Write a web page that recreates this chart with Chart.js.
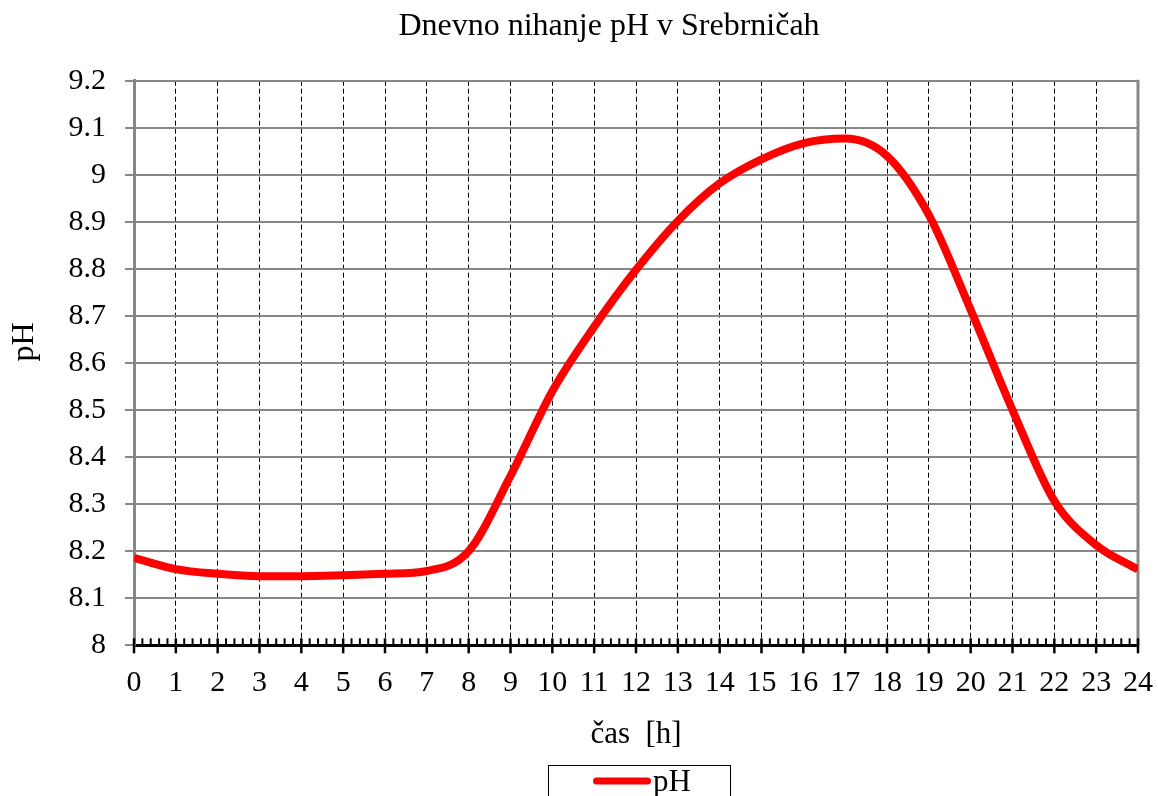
<!DOCTYPE html>
<html>
<head>
<meta charset="utf-8">
<title>Dnevno nihanje pH v Srebrničah</title>
<script src="https://cdn.jsdelivr.net/npm/chart.js@4.4.1/dist/chart.umd.min.js"></script>
<style>
  html, body { margin: 0; padding: 0; background: #ffffff; overflow: hidden; }
  #wrap { width: 1158px; height: 796px; }
  canvas { display: block; }
</style>
</head>
<body>
<div id="wrap"><canvas id="chart" width="1158" height="796"></canvas></div>
<script>
// Hourly pH readings over one day
const hours = [0, 1, 2, 3, 4, 5, 6, 7, 8, 9, 10, 11, 12, 13, 14, 15, 16, 17, 18, 19, 20, 21, 22, 23, 24];
const phValues = [8.186, 8.162, 8.152, 8.147, 8.147, 8.149, 8.152, 8.158, 8.200, 8.360, 8.540, 8.677, 8.798,
                  8.902, 8.982, 9.033, 9.067, 9.077, 9.040, 8.915, 8.713, 8.500, 8.307, 8.213, 8.161];

// Axis ranges and labels
const yTickValues = [8, 8.1, 8.2, 8.3, 8.4, 8.5, 8.6, 8.7, 8.8, 8.9, 9, 9.1, 9.2];
const xTickValues = hours;
const chartTitle = 'Dnevno nihanje pH v Srebrničah';
const xAxisTitle = 'čas  [h]';
const yAxisTitle = 'pH';
const seriesLabel = 'pH';

const SERIF = "'Liberation Serif', 'Times New Roman', Times, serif";
const GRID_GRAY = '#878787';
const LINE_RED = '#ff0000';

// Chart title, y-axis title, right frame edge, x-axis tick marks and the boxed legend
const decorations = {
  id: 'decorations',
  beforeDatasetsDraw(chart) {
    const { ctx, chartArea } = chart;
    const xs = chart.scales.x;
    ctx.save();
    // right edge of the plot frame
    ctx.strokeStyle = GRID_GRAY;
    ctx.lineWidth = 3;
    ctx.beginPath();
    ctx.moveTo(chartArea.right, chartArea.top - 1);
    ctx.lineTo(chartArea.right, chartArea.bottom);
    ctx.stroke();
    // x-axis tick marks: majors every hour, minors every 12 minutes
    ctx.strokeStyle = '#000';
    const min = xs.min, max = xs.max;
    for (let i = min * 5; i <= max * 5; i++) {
      const v = i / 5;
      const px = xs.getPixelForValue(v);
      const major = i % 5 === 0;
      ctx.lineWidth = major ? 2.5 : 2;
      ctx.beginPath();
      ctx.moveTo(px, chartArea.bottom - 7);
      ctx.lineTo(px, chartArea.bottom + (major ? 8 : 0));
      ctx.stroke();
    }
    ctx.restore();
  },
  afterDraw(chart) {
    const { ctx, chartArea } = chart;
    const ds = chart.data.datasets[0];
    ctx.save();
    ctx.fillStyle = '#000';
    // chart title
    ctx.font = `32px ${SERIF}`;
    ctx.textAlign = 'center';
    ctx.textBaseline = 'alphabetic';
    ctx.fillText(chartTitle, 609, 35);
    // y-axis title, rotated
    ctx.save();
    ctx.translate(33, 342);
    ctx.rotate(-Math.PI / 2);
    ctx.font = `32px ${SERIF}`;
    ctx.fillText(yAxisTitle, 0, 0);
    ctx.restore();
    // legend box with the series sample
    const cx = (chartArea.left + chartArea.right) / 2;
    ctx.strokeStyle = '#000';
    ctx.lineWidth = 1;
    ctx.strokeRect(Math.round(cx - 88) + 0.5, 765.5, 182, 60);
    ctx.strokeStyle = ds.borderColor;
    ctx.lineWidth = 7;
    ctx.lineCap = 'round';
    ctx.beginPath();
    ctx.moveTo(cx - 39.5, 781);
    ctx.lineTo(cx + 11.5, 781);
    ctx.stroke();
    ctx.font = `31px ${SERIF}`;
    ctx.textAlign = 'left';
    ctx.fillText(ds.label, cx + 17, 790.5);
    ctx.restore();
  }
};

const points = hours.map((h, i) => ({ x: h, y: phValues[i] }));

new Chart(document.getElementById('chart'), {
  type: 'line',
  data: {
    datasets: [{
      label: seriesLabel,
      data: points,
      borderColor: LINE_RED,
      backgroundColor: LINE_RED,
      borderWidth: 8,
      borderCapStyle: 'butt',
      borderJoinStyle: 'round',
      pointRadius: 0,
      pointHoverRadius: 0,
      cubicInterpolationMode: 'monotone',
      fill: false
    }]
  },
  options: {
    responsive: false,
    devicePixelRatio: 1,
    animation: false,
    events: [],
    layout: { padding: { left: 0, right: 20, top: 80.7, bottom: 30 } },
    plugins: {
      legend: { display: false },
      title: { display: false },
      tooltip: { enabled: false }
    },
    scales: {
      x: {
        type: 'linear',
        min: 0,
        max: 24,
        afterBuildTicks(scale) { scale.ticks = xTickValues.map(v => ({ value: v })); },
        afterFit(scale) {
          scale.height = 120.7;
          scale.paddingLeft = 0;
          scale.paddingRight = 0;
        },
        grid: {
          color: c => (c.tick && (c.tick.value === 0 || c.tick.value === 24)) ? 'rgba(0,0,0,0)' : '#000',
          lineWidth: 1,
          drawTicks: false
        },
        border: { color: '#000', width: 3, dash: [5, 3] },
        ticks: {
          autoSkip: false,
          maxRotation: 0,
          padding: 19.6,
          color: '#000',
          font: { family: SERIF, size: 30 },
          callback: v => String(v)
        },
        title: {
          display: true,
          text: xAxisTitle,
          color: '#000',
          font: { family: SERIF, size: 31 },
          padding: { top: 0, bottom: 12.4 }
        }
      },
      y: {
        type: 'linear',
        min: 8,
        max: 9.2,
        afterBuildTicks(scale) { scale.ticks = yTickValues.map(v => ({ value: v })); },
        afterFit(scale) { scale.width = 134; },
        grid: {
          color: c => (c.tick && c.tick.value === 8) ? 'rgba(0,0,0,0)' : GRID_GRAY,
          lineWidth: 2,
          drawTicks: true,
          tickLength: 9,
          tickColor: GRID_GRAY,
          tickWidth: 2
        },
        border: { color: GRID_GRAY, width: 3 },
        ticks: {
          padding: 19,
          color: '#000',
          font: { family: SERIF, size: 30 },
          callback: v => String(+v.toFixed(2))
        }
      }
    }
  },
  plugins: [decorations]
});
</script>
</body>
</html>
